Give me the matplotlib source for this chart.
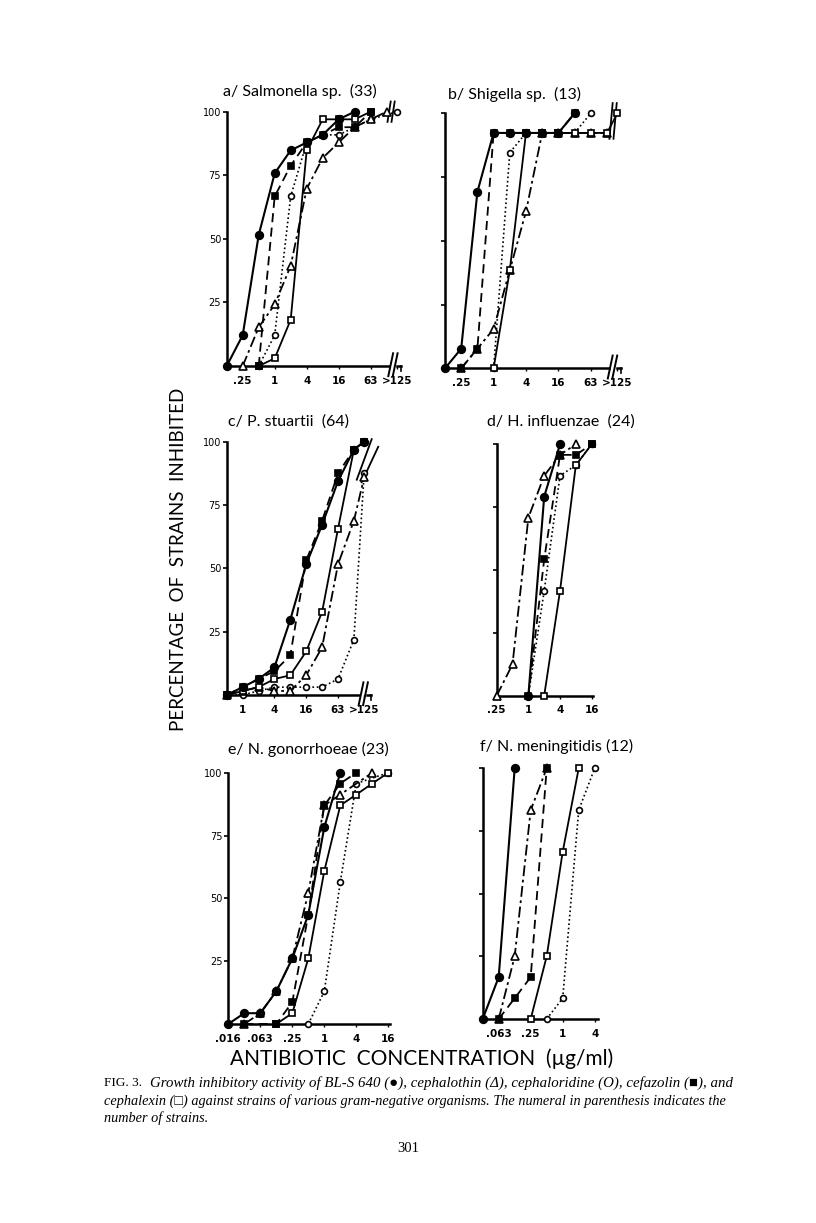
import numpy as np
import matplotlib
matplotlib.use("Agg")
import matplotlib.pyplot as plt

nan = np.nan
OVER = 200  # stands for the ">125" column

# --- data: % of strains inhibited at each concentration (ug/ml) ---
conc_a = [0.125, 0.25, 0.5, 1, 2, 4, 8, 16, 32, 64, 128, OVER]
bls_a  = [0, 12.1, 51.5, 75.8, 84.8, 87.9, 90.9, 97, 100, nan, nan, nan]
thin_a = [nan, 0, 15.2, 24.2, 39.4, 69.7, 81.8, 87.9, 93.9, 97, 100, nan]
lor_a  = [nan, nan, 0, 12.1, 66.7, 87.9, 90.9, 90.9, 93.9, 97, nan, 100]
faz_a  = [nan, nan, 0, 66.7, 78.8, 87.9, 90.9, 93.9, 93.9, 100, nan, nan]
lex_a  = [nan, nan, 0, 3, 18.2, 84.8, 97, 97, 97, 100, nan, nan]

conc_b = [0.125, 0.25, 0.5, 1, 2, 4, 8, 16, 32, 64, 128, OVER]
bls_b  = [0, 7.7, 69.2, 92.3, 92.3, 92.3, 92.3, 92.3, 100, nan, nan, nan]
thin_b = [nan, 0, 7.7, 15.4, 38.5, 61.5, 92.3, 92.3, 92.3, 92.3, 92.3, nan]
lor_b  = [nan, nan, nan, 0, 84.6, 92.3, 92.3, 92.3, 92.3, 100, nan, nan]
faz_b  = [nan, 0, 7.7, 92.3, 92.3, 92.3, 92.3, 92.3, 100, nan, nan, nan]
lex_b  = [nan, nan, nan, 0, 38.5, 92.3, 92.3, 92.3, 92.3, 92.3, 92.3, 100]

conc_c = [0.5, 1, 2, 4, 8, 16, 32, 64, 128, OVER]
bls_c  = [0, 3.1, 6.3, 10.9, 29.7, 51.6, 67.2, 84.4, 96.9, 100]
thin_c = [0, 1.6, 3.1, 1.6, 1.6, 7.8, 18.8, 51.6, 68.8, 85.9]
lor_c  = [0, 0, 1.6, 3.1, 3.1, 3.1, 3.1, 6.3, 21.9, 87.5]
faz_c  = [0, 3.1, 6.3, 9.4, 15.6, 53.1, 68.8, 87.5, 96.9, 100]
lex_c  = [0, 1.6, 3.1, 6.3, 7.8, 17.2, 32.8, 65.6, 96.9, 100]

conc_d = [0.25, 0.5, 1, 2, 4, 8, 16]
bls_d  = [nan, nan, 0, 79.2, 100, nan, nan]
thin_d = [0, 12.5, 70.8, 87.5, 95.8, 100, nan]
lor_d  = [nan, nan, 0, 41.7, 87.5, 91.7, 100]
faz_d  = [nan, nan, 0, 54.2, 95.8, 95.8, 100]
lex_d  = [nan, nan, nan, 0, 41.7, 91.7, 100]

conc_e = [1/64, 1/32, 1/16, 1/8, 1/4, 1/2, 1, 2, 4, 8, 16]
bls_e  = [0, 4.3, 4.3, 13, 26.1, 43.5, 78.3, 100, nan, nan, nan]
thin_e = [nan, 0, 4.3, 13, 26.1, 52.2, 87, 91.3, nan, 100, nan]
lor_e  = [nan, nan, nan, nan, nan, 0, 13, 56.5, 95.7, nan, 100]
faz_e  = [nan, 0, nan, 0, 8.7, 43.5, 87, 95.7, 100, nan, nan]
lex_e  = [nan, nan, nan, 0, 4.3, 26.1, 60.9, 87, 91.3, 95.7, 100]

conc_f = [1/32, 1/16, 1/8, 1/4, 1/2, 1, 2, 4]
bls_f  = [0, 16.7, 100, nan, nan, nan, nan, nan]
thin_f = [nan, 0, 25, 83.3, 100, nan, nan, nan]
lor_f  = [nan, nan, nan, nan, 0, 8.3, 83.3, 100]
faz_f  = [nan, 0, 8.3, 16.7, 100, nan, nan, nan]
lex_f  = [nan, nan, nan, 0, 25, 66.7, 100, nan]

titles = ["a/ Salmonella sp.  (33)", "b/ Shigella sp.  (13)",
          "c/ P. stuartii  (64)", "d/ H. influenzae  (24)",
          "e/ N. gonorrhoeae (23)", "f/ N. meningitidis (12)"]

# --- styles for the five drugs ---
STY = {
    "lor":  dict(ls=(0, (1, 1.6)), marker="o", mfc="white", ms=4.2, lw=1.2),
    "thin": dict(ls=(0, (6, 2, 1.5, 2)), marker="^", mfc="white", ms=6, lw=1.3),
    "lex":  dict(ls="-", marker="s", mfc="white", ms=5, lw=1.3),
    "faz":  dict(ls=(0, (5, 3)), marker="s", mfc="black", ms=5, lw=1.3),
    "bls":  dict(ls="-", marker="o", mfc="black", ms=5.5, lw=1.5),
}

W, H = 816, 1223
fig = plt.figure(figsize=(W / 100, H / 100), dpi=100)
FONT = "DejaVu Sans"


def make_ax(L, B, T, xmin, xmax, d):
    wpx = d * np.log2(xmax / xmin)
    ax = fig.add_axes([L / W, 1 - B / H, wpx / W, (B - T) / H])
    ax.set_xscale("log", base=2)
    ax.set_xlim(xmin, xmax)
    ax.set_ylim(0, 100)
    for s in ("top", "right"):
        ax.spines[s].set_visible(False)
    for s in ("left", "bottom"):
        ax.spines[s].set_linewidth(1.8)
    ax.minorticks_off()
    return ax


def draw(ax, conc, series):
    x = np.array(conc, dtype=float)
    for key, vals in series:
        y = np.array(vals, dtype=float)
        m = ~np.isnan(y)
        st = STY[key]
        ax.plot(x[m], y[m], color="black", ls=st["ls"], lw=st["lw"],
                marker=st["marker"], mfc=st["mfc"], mec="black",
                ms=st["ms"], mew=1.2, clip_on=False, zorder=3)


def x_ticks(ax, pos, labels):
    ax.set_xticks(pos)
    ax.set_xticklabels(labels, fontsize=7.5, fontweight="bold", family=FONT)
    ax.tick_params(axis="x", length=2, width=1, pad=5)


def y_ticks(ax, show_labels):
    ax.set_yticks([25, 50, 75, 100])
    if show_labels:
        ax.set_yticklabels(["25", "50", "75", "100"], fontsize=7,
                           family=FONT)
    else:
        ax.set_yticklabels([])
    ax.tick_params(axis="y", length=3, width=1.2, pad=1)


def axis_break(ax, xb):
    tr = ax.get_xaxis_transform()
    ax.spines["bottom"].set_bounds(ax.get_xlim()[0], xb)
    for k in (0.0, 0.28):
        x0 = xb * 2 ** (k - 0.05)
        ax.plot([x0, x0 * 2 ** 0.3], [-0.04, 0.05], color="black", lw=1.4,
                transform=tr, clip_on=False)
    xs = xb * 2 ** 0.5
    ax.plot([xs, xs * 2 ** 0.25], [0, 0], color="black", lw=1.8,
            transform=tr, clip_on=False)
    ax.plot([xs * 2 ** 0.25] * 2, [0, -0.02], color="black", lw=1.2,
            transform=tr, clip_on=False)


def top_break(ax, xb, y0, y1):
    tr = ax.get_xaxis_transform()
    for k in (0.0, 0.25):
        x0 = xb * 2 ** k
        ax.plot([x0, x0 * 2 ** 0.2], [y0, y1], color="black", lw=1.3,
                transform=tr, clip_on=False)


# panel a
ax = make_ax(226.7, 366, 111.7, 0.125, 2 ** 7.9, 16)
draw(ax, conc_a, [("lor", lor_a), ("thin", thin_a), ("lex", lex_a),
                  ("faz", faz_a), ("bls", bls_a)])
x_ticks(ax, [0.25, 1, 4, 16, 64, OVER], [".25", "1", "4", "16", "63", ">125"])
y_ticks(ax, True)
axis_break(ax, 2 ** 7.15)
top_break(ax, 2 ** 7.05, 0.96, 1.04)

# panel b
ax = make_ax(445, 368.3, 113.3, 0.125, 2 ** 7.9, 16.2)
draw(ax, conc_b, [("lor", lor_b), ("thin", thin_b), ("lex", lex_b),
                  ("faz", faz_b), ("bls", bls_b)])
x_ticks(ax, [0.25, 1, 4, 16, 64, OVER], [".25", "1", "4", "16", "63", ">125"])
y_ticks(ax, False)
axis_break(ax, 2 ** 7.1)
top_break(ax, 2 ** 7.15, 0.9, 1.04)

# panel c
ax = make_ax(226.7, 695, 441.7, 0.5, 2 ** 8.3, 15.9)
draw(ax, conc_c, [("lor", lor_c), ("thin", thin_c), ("lex", lex_c),
                  ("faz", faz_c), ("bls", bls_c)])
x_ticks(ax, [1, 4, 16, 64, OVER], ["1", "4", "16", "63", ">125"])
y_ticks(ax, True)
axis_break(ax, 2 ** 7.35)
tr = ax.get_xaxis_transform()
ax.plot([2 ** 7.18, 2 ** 8.12], [0.85, 1.01], color="black", lw=1.3,
        transform=tr, clip_on=False)
ax.plot([2 ** 7.49, 2 ** 8.53], [0.84, 0.98], color="black", lw=1.3,
        transform=tr, clip_on=False)

# panel d
ax = make_ax(496.7, 695.7, 444.3, 0.25, 17, 15.83)
draw(ax, conc_d, [("lor", lor_d), ("thin", thin_d), ("lex", lex_d),
                  ("faz", faz_d), ("bls", bls_d)])
x_ticks(ax, [0.25, 1, 4, 16], [".25", "1", "4", "16"])
y_ticks(ax, False)

# panel e
ax = make_ax(228.3, 1024, 772.7, 1 / 64, 17, 16)
draw(ax, conc_e, [("lor", lor_e), ("thin", thin_e), ("lex", lex_e),
                  ("faz", faz_e), ("bls", bls_e)])
x_ticks(ax, [1 / 64, 1 / 16, 1 / 4, 1, 4, 16],
        [".016", ".063", ".25", "1", "4", "16"])
y_ticks(ax, True)

# panel f
ax = make_ax(482.7, 1019, 768.3, 1 / 32, 4.6, 16)
draw(ax, conc_f, [("lor", lor_f), ("thin", thin_f), ("lex", lex_f),
                  ("faz", faz_f), ("bls", bls_f)])
x_ticks(ax, [1 / 16, 1 / 4, 1, 4], [".063", ".25", "1", "4"])
y_ticks(ax, False)

# panel titles
title_pos = [(223, 91), (448, 94), (228, 422), (487, 422), (228, 749), (480, 746)]
for (tx, ty), t in zip(title_pos, titles):
    fig.text(tx / W, 1 - ty / H, t, fontsize=11.5, family="Lato",
             ha="left", va="center")

# common axis labels
fig.text(178 / W, 1 - 559 / H, "PERCENTAGE  OF  STRAINS  INHIBITED",
         rotation=90, fontsize=13.5, family="Lato", ha="center", va="center")
fig.text(422 / W, 1 - 1059 / H, "ANTIBIOTIC  CONCENTRATION  (\u00b5g/ml)",
         fontsize=15, family="Lato", ha="center", va="center")

# caption
cap_fam = ["Liberation Serif", "DejaVu Serif", "DejaVu Sans"]
fig.text(104 / W, 1 - 1083 / H, "FIG. 3.", fontsize=9.5,
         family=cap_fam, ha="left", va="center")
fig.text(150 / W, 1 - 1083 / H,
         "Growth inhibitory activity of BL-S 640 (\u25cf), cephalothin (\u0394), "
         "cephaloridine (O), cefazolin (\u25a0), and",
         fontsize=10.7, style="italic", family=cap_fam, ha="left", va="center")
fig.text(104 / W, 1 - 1101 / H,
         "cephalexin (\u25a1) against strains of various gram-negative organisms. "
         "The numeral in parenthesis indicates the",
         fontsize=10.3, style="italic", family=cap_fam, ha="left", va="center")
fig.text(104 / W, 1 - 1118 / H, "number of strains.",
         fontsize=10.3, style="italic", family=cap_fam, ha="left", va="center")
fig.text(408 / W, 1 - 1148 / H, "301", fontsize=10.5, family=cap_fam,
         ha="center", va="center")

fig.savefig("out.png", dpi=100)
